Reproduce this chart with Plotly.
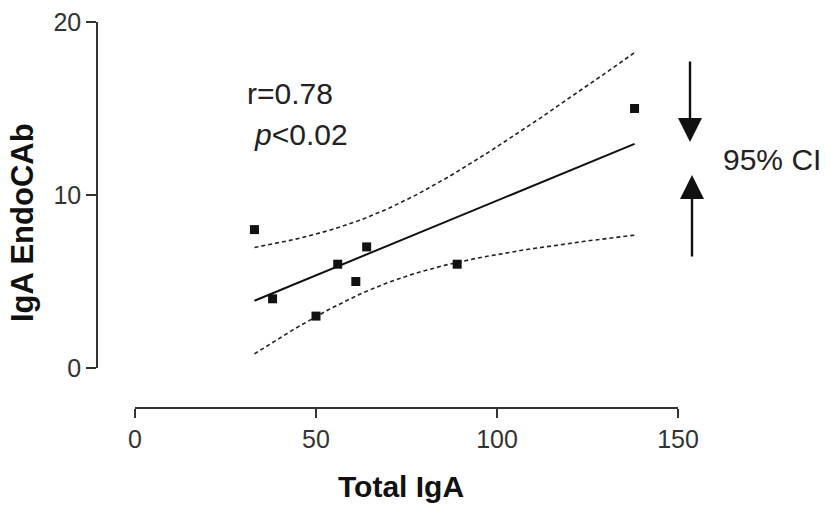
import numpy as np
import plotly.graph_objects as go

# ---- data ----
total_iga = [33, 38, 50, 56, 61, 64, 89, 138]
iga_endocab = [8, 4, 3, 6, 5, 7, 6, 15]
x_ticks = [0, 50, 100, 150]
y_ticks = [0, 10, 20]
t_crit = 2.447  # t(0.975, df=6)

x = np.array(total_iga, dtype=float)
y = np.array(iga_endocab, dtype=float)
n = len(x)
slope, intercept = np.polyfit(x, y, 1)
xs = np.linspace(x.min(), x.max(), 100)
fit = intercept + slope * xs
resid = y - (intercept + slope * x)
s = np.sqrt(np.sum(resid ** 2) / (n - 2))
sxx = np.sum((x - x.mean()) ** 2)
half = t_crit * s * np.sqrt(1.0 / n + (xs - x.mean()) ** 2 / sxx)

FONT = "Liberation Sans, Arial, sans-serif"
W, H = 831, 507

fig = go.Figure()
fig.add_trace(go.Scatter(x=xs, y=fit + half, mode="lines",
                         line=dict(color="#222", width=1.6, dash="4px,3px"), hoverinfo="skip"))
fig.add_trace(go.Scatter(x=xs, y=fit - half, mode="lines",
                         line=dict(color="#222", width=1.6, dash="4px,3px"), hoverinfo="skip"))
fig.add_trace(go.Scatter(x=xs, y=fit, mode="lines",
                         line=dict(color="#111", width=2), hoverinfo="skip"))
fig.add_trace(go.Scatter(x=total_iga, y=iga_endocab, mode="markers",
                         marker=dict(symbol="square", size=9, color="#111"),
                         cliponaxis=False))

px = lambda p: p / W
py = lambda p: (H - p) / H

fig.update_layout(
    template="none",
    width=W, height=H,
    margin=dict(l=0, r=0, t=0, b=0, pad=0, autoexpand=False),
    paper_bgcolor="white", plot_bgcolor="white",
    showlegend=False,
    font=dict(family=FONT, color="#222"),
    xaxis=dict(domain=[px(135), px(678)], range=[0, 150], automargin=False,
               tickvals=x_ticks, ticks="outside", ticklen=9, tickwidth=1.5,
               tickcolor="#333", showline=True, linecolor="#333", linewidth=1.5,
               showgrid=False, zeroline=False, anchor="free", position=py(408),
               tickfont=dict(size=25, family=FONT, color="#333")),
    yaxis=dict(domain=[py(368), py(22)], range=[0, 20], automargin=False,
               tickvals=y_ticks, ticks="outside", ticklen=10, tickwidth=1.5,
               tickcolor="#333", showline=True, linecolor="#333", linewidth=1.5,
               showgrid=False, zeroline=False, anchor="free", position=px(97),
               tickfont=dict(size=25, family=FONT, color="#333")),
)

def txt(text, xp, yp, size, xanchor="left", angle=0, color="#222"):
    return dict(text=text, x=px(xp), y=py(yp), xref="paper", yref="paper",
                xanchor=xanchor, yanchor="middle", showarrow=False, textangle=angle,
                font=dict(size=size, family=FONT, color=color))

ann = [
    txt("<b>Total IgA</b>", 401, 486, 30, xanchor="center", color="#111"),
    txt("<b>IgA EndoCAb</b>", 22, 223, 31, xanchor="center", angle=-90, color="#111"),
    txt("r=0.78", 245, 94, 30),
    txt("<i>p</i><0.02", 252, 134, 30),
    txt("95% CI", 721, 159, 30),
]
# arrows (tip position, tail offset in pixels)
ann.append(dict(text="", x=px(690), y=py(142), ax=0, ay=-82,
                xref="paper", yref="paper", axref="pixel", ayref="pixel",
                showarrow=True, arrowhead=2, arrowsize=2, arrowwidth=2.4, arrowcolor="#111"))
ann.append(dict(text="", x=px(692), y=py(175), ax=0, ay=83,
                xref="paper", yref="paper", axref="pixel", ayref="pixel",
                showarrow=True, arrowhead=2, arrowsize=2, arrowwidth=2.4, arrowcolor="#111"))
fig.update_layout(annotations=ann)

fig.write_html("out.html")
